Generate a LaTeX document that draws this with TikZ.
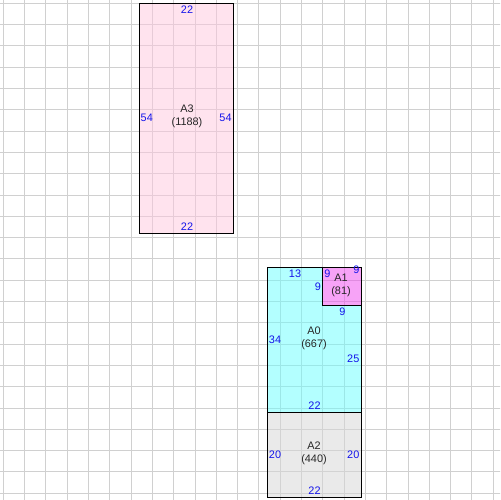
\documentclass[tikz,border=0pt]{standalone}
\usepackage{fontspec}
\setmainfont{Liberation Sans}
\begin{document}
\begin{tikzpicture}[x=0.02cm,y=-0.02cm,
  gridline/.style={draw=gridc,line width=0.57pt},
  piece/.style={draw=black,line width=0.65pt},
  fillp/.style={fill opacity=0.5},
  dim/.style={text=dimc,font=\fontsize{6.2}{7.4}\selectfont,inner sep=0pt},
  piecelbl/.style={text=black!85,font=\fontsize{6.2}{7.4}\selectfont,align=center,inner sep=0pt}]
\definecolor{gridc}{RGB}{208,208,208}
\definecolor{dimc}{RGB}{20,20,235}
\definecolor{cA3}{RGB}{255,200,222}
\definecolor{cA0}{RGB}{105,255,255}
\definecolor{cA1}{RGB}{240,72,240}
\definecolor{cA2}{RGB}{215,215,215}
\useasboundingbox (0,0) rectangle (500,500);
\clip (0,0) rectangle (500,500);
\fill[white] (0,0) rectangle (500,500);
% grid and pieces in layout units
\begin{scope}[x=0.0852cm,y=-0.0852cm,shift={(0.068cm,-0.068cm)}]
  \foreach \i in {0,5,...,115} {
    \draw[gridline] (\i,-2) -- (\i,120);
    \draw[gridline] (-2,\i) -- (120,\i);
  }
  \fill[cA3,fillp] (32,0) rectangle (54,54);
  \fill[cA0,fillp] (62,62) -- (75,62) -- (75,71) -- (84,71) -- (84,96) -- (62,96) -- cycle;
  \fill[cA1,fillp] (75,62) rectangle (84,71);
  \fill[cA2,fillp] (62,96) rectangle (84,116);
  \draw[piece] (32,0) rectangle (54,54);
  \draw[piece] (62,62) rectangle (84,96);
  \draw[piece] (75,62) rectangle (84,71);
  \draw[piece] (62,96) rectangle (84,116);
\end{scope}
% A3
\node[piecelbl] (nA3) at (187,116.7) {A3\\(1188)};
\node[dim] (dA3t) at (187,10) {22};
\node[dim] (dA3l) at (146.8,117.5) {54};
\node[dim] (dA3r) at (225.5,117.5) {54};
\node[dim] (dA3b) at (187,227) {22};
% A0
\node[piecelbl] (nA0) at (314,338.5) {A0\\(667)};
\node[dim] (dA0t) at (295,274) {13};
\node[dim] (dA0l) at (275,340) {34};
\node[dim] (dA0r) at (353.3,358.5) {25};
\node[dim] (dA0b) at (314.5,405.5) {22};
\node[dim] (dA0i) at (318,286.7) {9};
\node[dim] (dA0j) at (342.3,311.5) {9};
% A1
\node[piecelbl] (nA1) at (341,285.5) {A1\\(81)};
\node[dim] (dA1l) at (327.3,274) {9};
\node[dim] (dA1t) at (356.5,269.5) {9};
% A2
\node[piecelbl] (nA2) at (314,453.7) {A2\\(440)};
\node[dim] (dA2l) at (275,455) {20};
\node[dim] (dA2r) at (353.3,455) {20};
\node[dim] (dA2b) at (314.5,490.5) {22};
\end{tikzpicture}
\end{document}
